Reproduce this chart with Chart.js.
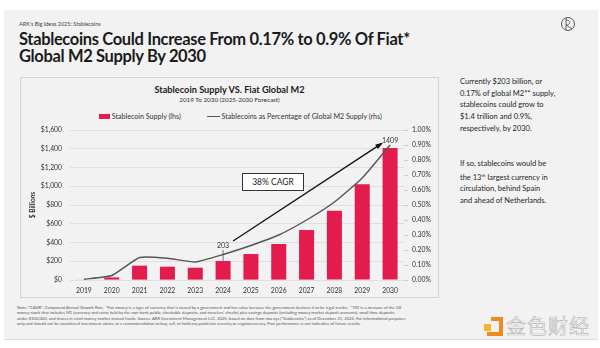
<!DOCTYPE html>
<html>
<head>
<meta charset="utf-8">
<script src="https://cdn.jsdelivr.net/npm/chart.js@4.4.1/dist/chart.umd.min.js"></script>
<style>
  html, body { margin: 0; padding: 0; background: #fff; }
  body { width: 600px; height: 348px; position: relative; overflow: hidden; font-family: Lato, "Noto Sans", sans-serif; color: #1f1f1f; }
  .slide { position: absolute; left: 4px; top: 10px; width: 594px; height: 329px; background: #f2f2f2; border-bottom: 1px solid #ddd; }
  .kicker { position: absolute; left: 19px; top: 21px; font-size: 5.5px; color: #444; }
  .headline { position: absolute; left: 19px; top: 31px; font-size: 16.5px; font-weight: 700; line-height: 17px; color: #1b1b1b; letter-spacing: -0.35px; }
  .logo { position: absolute; left: 560px; top: 16px; }
  .box { position: absolute; left: 20px; top: 77px; width: 417px; height: 219px; border: 1px solid #d4d4d4; }
  .ctitle { position: absolute; left: 20px; width: 419px; top: 84px; text-align: center; font-size: 9.2px; font-weight: 700; color: #1b1b1b; }
  .csub { position: absolute; left: 20px; width: 419px; top: 96px; text-align: center; font-size: 6.3px; color: #333; }
  .legend { position: absolute; left: 99px; top: 111px; font-size: 7.1px; color: #333; white-space: nowrap; }
  .legend span { display: inline-block; vertical-align: middle; }
  .sw-bar { width: 11px; height: 5px; background: #e31c4d; }
  .sw-line { width: 13px; height: 1.3px; background: #555; margin-left: 26px; }
  canvas#chart { position: absolute; left: 20px; top: 77px; }
  .cagr { position: absolute; left: 242px; top: 173px; width: 60px; height: 16px; border: 1px solid #333; background: #fff; font-size: 8.5px; line-height: 16px; text-align: center; color: #222; }
  .side { position: absolute; left: 460px; font-size: 7.5px; line-height: 11.7px; color: #1f1f1f; }
  .side sup { font-size: 4.5px; vertical-align: 3px; }
  .note { position: absolute; left: 17px; top: 305px; font-size: 4.2px; line-height: 5.3px; color: #555; white-space: nowrap; }
  .wm { position: absolute; left: 483px; top: 314px; }
  .wm-text { position: absolute; left: 506px; top: 314px; font-family: "Noto Sans CJK SC", sans-serif; font-size: 20px; line-height: 24px; color: rgba(255,255,255,0.85); -webkit-text-stroke: 0.7px #b9b9b9; letter-spacing: 1px; }
</style>
</head>
<body>
<div class="slide"></div>
<div class="kicker">ARK's Big Ideas 2025: Stablecoins</div>
<div class="headline">Stablecoins Could Increase From 0.17% to 0.9% Of Fiat*<br>Global M2 Supply By 2030</div>
<svg class="logo" width="16" height="16" viewBox="0 0 16 16">
  <circle cx="8" cy="8" r="6.5" fill="none" stroke="#555" stroke-width="1"/>
  <path d="M6 2 L6 14 M6 4 C11 4 11 9 6 9 L12 13" fill="none" stroke="#555" stroke-width="0.9"/>
</svg>

<div class="box"></div>
<div class="ctitle">Stablecoin Supply VS. Fiat Global M2</div>
<div class="csub">2019 To 2030 (2025-2030 Forecast)</div>
<div class="legend"><span class="sw-bar"></span><span>&nbsp;Stablecoin Supply (lhs)</span><span class="sw-line"></span><span>&nbsp;Stablecoins as Percentage of Global M2 Supply (rhs)</span></div>
<canvas id="chart" width="418" height="220"></canvas>
<div class="cagr">38% CAGR</div>

<div class="side" style="top:76px">Currently $203 billion, or<br>0.17% of global M2** supply,<br>stablecoins could grow to<br>$1.4 trillion and 0.9%,<br>respectively, by 2030.</div>
<div class="side" style="top:158px">If so, stablecoins would be<br>the 13<sup>th</sup> largest currency in<br>circulation, behind Spain<br>and ahead of Netherlands.</div>

<div class="note">Note: "CAGR": Compound Annual Growth Rate. *Fiat money is a type of currency that is issued by a government and has value because the government declares it to be legal tender. **M2 is a measure of the US<br>money stock that includes M1 (currency and coins held by the non-bank public, checkable deposits, and travelers' checks) plus savings deposits (including money market deposit accounts), small time deposits<br>under $100,000, and shares in retail money market mutual funds. Source: ARK Investment Management LLC, 2025, based on data from rwa.xyz ("Stablecoins") as of December 31, 2024. For informational purposes<br>only and should not be considered investment advice or a recommendation to buy, sell, or hold any particular security or cryptocurrency. Past performance is not indicative of future results.</div>

<svg class="wm" width="22" height="24" viewBox="0 0 22 24">
  <rect x="1" y="10" width="7" height="7" fill="#f7b529"/>
  <path d="M8 3 L20 3 L20 22 L4 22 L4 18 L16 18 L16 7 L8 7 Z" fill="#f08a1c"/>
</svg>
<div class="wm-text">金色财经</div>

<script>
// Stablecoin supply ($B) and share of global M2 (%)
const years = ['2019', '2020', '2021', '2022', '2023', '2024', '2025', '2026', '2027', '2028', '2029', '2030'];
const supply = [5, 28, 153, 142, 131, 203, 277, 384, 533, 739, 1021, 1409];
const pctOfM2 = [0.005, 0.03, 0.15, 0.145, 0.12, 0.17, 0.23, 0.30, 0.40, 0.52, 0.68, 0.90];
const labelledYears = ['2024', '2030'];

const RED = '#e31c4d';
const INK = '#333';

// value labels above selected bars, plus the CAGR arrow between them
const annotate = {
    id: 'annotate',
    afterDatasetsDraw(chart) {
        const ctx = chart.ctx;
        const x = chart.scales.x, y = chart.scales.y;
        const pts = labelledYears.map(yr => {
            const i = years.indexOf(yr);
            return { v: supply[i], px: x.getPixelForValue(i), py: y.getPixelForValue(supply[i]) };
        });
        ctx.save();
        ctx.font = '7px Lato';
        ctx.fillStyle = INK;
        ctx.textAlign = 'center';
        ctx.textBaseline = 'middle';
        // 2024: label with a leader line
        const a = pts[0];
        ctx.fillText(String(a.v), a.px, a.py - 15);
        ctx.strokeStyle = '#555';
        ctx.lineWidth = 0.8;
        ctx.beginPath();
        ctx.moveTo(a.px, a.py - 11);
        ctx.lineTo(a.px, a.py);
        ctx.stroke();
        // 2030
        const b = pts[1];
        ctx.fillText(String(b.v), b.px, b.py - 7);

        // arrow
        const x0 = a.px + 10, y0 = a.py - 20;
        const x1 = b.px - 9, y1 = b.py - 4;
        ctx.strokeStyle = '#111';
        ctx.fillStyle = '#111';
        ctx.lineWidth = 1.3;
        ctx.beginPath();
        ctx.moveTo(x0, y0);
        ctx.lineTo(x1, y1);
        ctx.stroke();
        const ang = Math.atan2(y1 - y0, x1 - x0);
        ctx.beginPath();
        ctx.moveTo(x1 + 2, y1 + 2 * Math.tan(ang));
        ctx.lineTo(x1 - 6 * Math.cos(ang - 0.45), y1 - 6 * Math.sin(ang - 0.45));
        ctx.lineTo(x1 - 6 * Math.cos(ang + 0.45), y1 - 6 * Math.sin(ang + 0.45));
        ctx.closePath();
        ctx.fill();
        ctx.restore();
    }
};

Chart.defaults.font.family = 'Lato';
Chart.defaults.color = INK;

new Chart(document.getElementById('chart'), {
    type: 'bar',
    data: {
        labels: years,
        datasets: [{
            type: 'line',
            label: 'Stablecoins as Percentage of Global M2 Supply (rhs)',
            data: pctOfM2,
            yAxisID: 'y2',
            borderColor: '#555',
            borderWidth: 1.4,
            pointRadius: 0,
            tension: 0.15,
            order: 0
        }, {
            label: 'Stablecoin Supply (lhs)',
            data: supply,
            backgroundColor: RED,
            yAxisID: 'y',
            categoryPercentage: 0.9,
            barPercentage: 0.6,
            order: 1
        }]
    },
    options: {
        responsive: false,
        animation: false,
        layout: { padding: { top: 53, left: 0, right: 0, bottom: 0 } },
        plugins: {
            legend: { display: false },
            tooltip: { enabled: false }
        },
        scales: {
            x: {
                grid: { display: false, drawTicks: false },
                border: { display: false },
                ticks: { font: { size: 6.8 }, padding: 7, maxRotation: 0 },
                afterFit(s) { s.height = 17; }
            },
            y: {
                position: 'left',
                min: 0,
                max: 1600,
                border: { display: false },
                grid: { color: '#d9d9d9', lineWidth: 0.8, drawTicks: false },
                ticks: {
                    stepSize: 200,
                    padding: 8,
                    font: { size: 6.8 },
                    callback: v => '$' + v.toLocaleString('en-US')
                },
                title: {
                    display: true,
                    text: '$ Billions',
                    font: { size: 6.5, weight: 'bold' },
                    padding: { top: 9, bottom: 0 }
                },
                afterFit(s) { s.width = 50; }
            },
            y2: {
                position: 'right',
                min: 0,
                max: 1,
                border: { display: false },
                grid: { drawOnChartArea: false, color: '#cfcfcf', tickLength: 4 },
                ticks: {
                    stepSize: 0.1,
                    padding: 4,
                    font: { size: 6.8 },
                    callback: v => v.toFixed(2) + '%'
                },
                afterFit(s) { s.width = 34; }
            }
        }
    },
    plugins: [annotate]
});
</script>
</body>
</html>
